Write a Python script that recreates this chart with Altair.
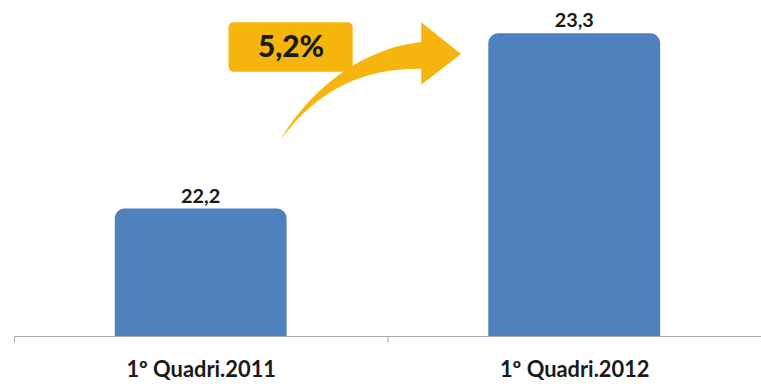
import altair as alt
import pandas as pd

categories = ["1º Quadri.2011", "1º Quadri.2012"]
values = [22.2, 23.3]
labels = ["22,2", "23,3"]
growth_label = ["5,2%"]

df = pd.DataFrame({"cat": categories, "val": values, "lab": labels})

BLUE = "#4F81BD"
GOLD = "#F5B50C"
FONT = "Lato"

x_enc = alt.X("cat:N", sort=categories,
              scale=alt.Scale(paddingInner=0, paddingOuter=0),
              axis=alt.Axis(title=None, labelAngle=0, labelFont=FONT, labelFontSize=22,
                            labelFontWeight="bold", labelColor="#1a1a1a", labelPadding=18,
                            domainColor="#a6a6a6", tickColor="#a6a6a6", tickSize=6,
                            tickBand="extent", grid=False))
y_scale = alt.Scale(domain=[21.4, 23.5], zero=False, nice=False)

base = alt.Chart(df)

bars = base.mark_bar(color=BLUE, width={"band": 0.46},
                     cornerRadiusTopLeft=10, cornerRadiusTopRight=10).encode(
    x=x_enc,
    y=alt.Y("val:Q", scale=y_scale, axis=None),
    y2=alt.datum(21.4),
)

text = base.mark_text(font=FONT, fontSize=20, fontWeight="bold", color="#1a1a1a",
                      baseline="alphabetic", dy=-6).encode(
    x=alt.X("cat:N", sort=categories),
    y=alt.Y("val:Q", scale=y_scale, axis=None),
    text="lab:N",
)

arrow_path = ("M -0.93 0.48 C -0.75 0.15 -0.25 -0.42 0.48 -0.50 "
              "L 0.48 -0.70 L 0.88 -0.38 L 0.48 -0.07 L 0.48 -0.23 "
              "C -0.05 -0.24 -0.55 -0.05 -0.93 0.48 Z")

ann = alt.Chart(pd.DataFrame({"g": growth_label}))

arrow = ann.mark_point(shape=arrow_path, filled=True, color=GOLD, opacity=1,
                       strokeWidth=0, size=40000).encode(
    x=alt.value(362), y=alt.value(91))

box = ann.mark_rect(color=GOLD, cornerRadius=5).encode(
    x=alt.value(216), x2=alt.value(341), y=alt.value(21), y2=alt.value(71))

box_text = ann.mark_text(font=FONT, fontSize=30, fontWeight=900, color="#1a1a1a",
                         baseline="middle", align="center").encode(
    x=alt.value(279), y=alt.value(47), text="g:N")

chart = alt.layer(bars, text, arrow, box, box_text).properties(
    width=752, height=337,
    background="white",
    padding={"left": 14, "top": 0, "right": 0, "bottom": 53},
    autosize=alt.AutoSizeParams(type="none"),
).configure_view(stroke=None, strokeWidth=0).configure_axisY(
    domain=False, grid=False, ticks=False, labels=False
)

chart.save("out.html", embed_options={"renderer": "svg", "actions": False})
